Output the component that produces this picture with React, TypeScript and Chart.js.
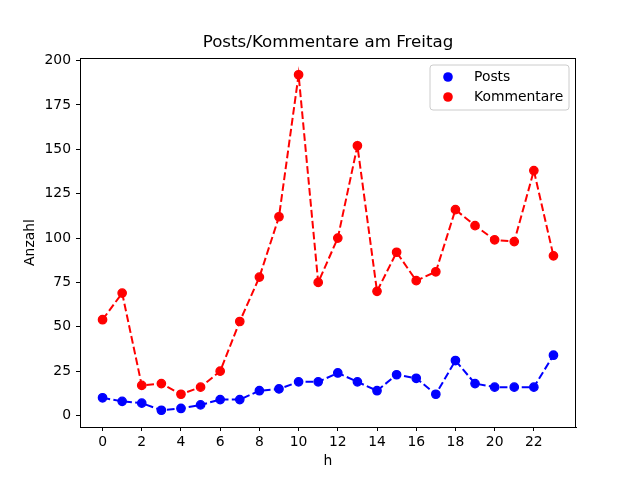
import { useEffect, useRef } from "react"
import { Chart, registerables } from "chart.js"

Chart.register(...registerables)

const hours = [0, 1, 2, 3, 4, 5, 6, 7, 8, 9, 10, 11, 12, 13, 14, 15, 16, 17, 18, 19, 20, 21, 22, 23]
const posts = [10, 8, 7, 3, 4, 6, 9, 9, 14, 15, 19, 19, 24, 19, 14, 23, 21, 12, 31, 18, 16, 16, 16, 34]
const kommentare = [54, 69, 17, 18, 12, 16, 25, 53, 78, 112, 192, 75, 100, 152, 70, 92, 76, 81, 116, 107, 99, 98, 138, 90]
const xTicks = [0, 2, 4, 6, 8, 10, 12, 14, 16, 18, 20, 22]
const yTicks = [0, 25, 50, 75, 100, 125, 150, 175, 200]
const titleText = "Posts/Kommentare am Freitag"

const FONT = "'DejaVu Sans', sans-serif"

// title over the axes, top/right spines + legend box like matplotlib
const framePlugin = {
  id: "frame",
  afterDatasetsDraw(chart: Chart) {
    const { ctx, chartArea } = chart
    ctx.save()
    ctx.strokeStyle = "#000"
    ctx.lineWidth = 1
    ctx.strokeRect(chartArea.left + 0.5, chartArea.top + 0.5, chartArea.right - chartArea.left - 1, chartArea.bottom - chartArea.top)

    ctx.fillStyle = "#000"
    ctx.font = `16.7px ${FONT}`
    ctx.textAlign = "center"
    ctx.textBaseline = "middle"
    ctx.fillText(titleText, (chartArea.left + chartArea.right) / 2, 43)

    // legend
    const x0 = 430, y0 = 65, w = 139, h = 45, r = 3
    ctx.beginPath()
    ctx.moveTo(x0 + r, y0)
    ctx.arcTo(x0 + w, y0, x0 + w, y0 + h, r)
    ctx.arcTo(x0 + w, y0 + h, x0, y0 + h, r)
    ctx.arcTo(x0, y0 + h, x0, y0, r)
    ctx.arcTo(x0, y0, x0 + w, y0, r)
    ctx.closePath()
    ctx.fillStyle = "rgba(255,255,255,0.8)"
    ctx.fill()
    ctx.strokeStyle = "#cccccc"
    ctx.stroke()

    ctx.font = `13.9px ${FONT}`
    ctx.textBaseline = "middle"
    ctx.textAlign = "left"
    chart.data.datasets.forEach((ds, i) => {
      const y = 77 + i * 20
      ctx.beginPath()
      ctx.arc(448, y, 4.8, 0, Math.PI * 2)
      ctx.fillStyle = ds.backgroundColor as string
      ctx.fill()
      ctx.fillStyle = "#000"
      ctx.fillText(ds.label || "", 474, y)
    })
    ctx.restore()
  },
}

export default function App() {
  const chartRef = useRef<HTMLCanvasElement>(null)
  const chartInstance = useRef<Chart | null>(null)

  useEffect(() => {
    if (!chartRef.current) return
    Chart.defaults.color = "#000"
    Chart.defaults.font.family = FONT

    chartInstance.current = new Chart(chartRef.current, {
      type: "line",
      data: {
        datasets: [
          {
            label: "Posts",
            data: hours.map((h, i) => ({ x: h, y: posts[i] })),
            borderColor: "#0000ff",
            backgroundColor: "#0000ff",
            borderWidth: 2,
            borderDash: [7.7, 3.3],
            pointRadius: 4.2,
            pointBorderWidth: 1.3,
            pointBorderColor: "#0000ff",
            order: 2,
          },
          {
            label: "Kommentare",
            data: hours.map((h, i) => ({ x: h, y: kommentare[i] })),
            borderColor: "#ff0000",
            backgroundColor: "#ff0000",
            borderWidth: 2,
            borderDash: [7.7, 3.3],
            pointRadius: 4.2,
            pointBorderWidth: 1.3,
            pointBorderColor: "#ff0000",
            order: 1,
          },
        ],
      },
      options: {
        animation: false,
        responsive: true,
        maintainAspectRatio: false,
        layout: { padding: { left: 18, right: 64, top: 58, bottom: 6 } },
        plugins: {
          legend: { display: false },
          tooltip: { enabled: false },
        },
        scales: {
          x: {
            type: "linear",
            min: -1.15,
            max: 24.15,
            afterBuildTicks: (scale) => {
              scale.ticks = xTicks.map((v) => ({ value: v }))
            },
            afterFit: (scale) => {
              scale.height = 47
            },
            grid: { drawOnChartArea: false, tickLength: 4, tickColor: "#000" },
            border: { color: "#000" },
            ticks: { color: "#000", padding: 3, maxRotation: 0, font: { size: 13.9 } },
            title: { display: true, text: "h", color: "#000", font: { size: 13.9 } },
          },
          y: {
            type: "linear",
            min: -6.45,
            max: 201.45,
            afterBuildTicks: (scale) => {
              scale.ticks = yTicks.map((v) => ({ value: v }))
            },
            afterFit: (scale) => {
              scale.width = 62
            },
            grid: { drawOnChartArea: false, tickLength: 4, tickColor: "#000" },
            border: { color: "#000" },
            ticks: { color: "#000", padding: 5, font: { size: 13.9 } },
            title: { display: true, text: "Anzahl", color: "#000", font: { size: 13.9 } },
          },
        },
      },
      plugins: [framePlugin],
    })

    return () => {
      if (chartInstance.current) {
        chartInstance.current.destroy()
      }
    }
  }, [])

  return (
    <div style={{ position: "fixed", left: 0, top: 0, width: 640, height: 480, background: "#fff" }}>
      <canvas ref={chartRef}></canvas>
    </div>
  )
}
